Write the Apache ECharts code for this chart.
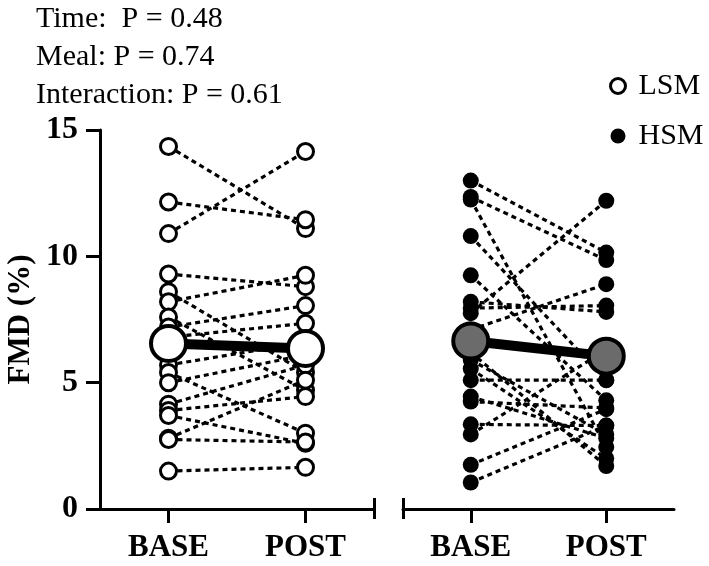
<!DOCTYPE html>
<html>
<head>
<meta charset="utf-8">
<script src="https://cdn.jsdelivr.net/npm/echarts@6/dist/echarts.min.js"></script>
<style>
html,body{margin:0;padding:0;background:#fff;}
#chart{width:709px;height:566px;}
</style>
</head>
<body>
<div id="chart"></div>
<script>
var categories = ['BASE', 'POST'];
var yTicks = [0, 5, 10, 15];
var statsLines = ['Time:  P = 0.48', 'Meal: P = 0.74', 'Interaction: P = 0.61'];

var lsmBase = [14.35, 12.15, 10.9, 9.3, 8.6, 8.2, 7.6, 7.2, 6.8, 5.7, 5.4, 5.0, 4.15, 3.9, 3.7, 2.8, 2.75, 1.5];
var lsmPost = [11.1, 11.45, 14.15, 8.8, 5.4, 9.25, 4.7, 8.05, 7.35, 6.6, 3.0, 6.1, 5.7, 4.45, 2.6, 5.1, 2.65, 1.65];
var lsmMean = [6.55, 6.35];

var hsmBase = [13.0, 12.35, 12.25, 10.8, 9.25, 8.2, 7.95, 7.75, 7.1, 6.2, 5.9, 5.55, 5.1, 4.45, 4.25, 3.35, 2.95, 1.75, 1.05];
var hsmPost = [10.15, 9.85, 2.45, 5.1, 4.3, 7.8, 8.05, 12.2, 8.9, 1.7, 2.95, 2.0, 5.1, 2.8, 4.0, 3.3, 6.3, 3.95, 3.3];
var hsmMean = [6.65, 6.05];

var FONT = '"Liberation Serif", "Times New Roman", serif';
var chart = echarts.init(document.getElementById('chart'), null, {renderer: 'canvas'});

var series = [];
function addGroup(base, post, idx, name, pointStyle, meanValues, meanFill) {
  for (var i = 0; i < base.length; i++) {
    series.push({
      type: 'line', xAxisIndex: idx, yAxisIndex: idx,
      data: [base[i], post[i]],
      symbol: 'none', silent: true, z: 2,
      lineStyle: {color: '#000', width: 3.2, type: [5, 4]}
    });
  }
  var pts = [];
  for (var j = 0; j < base.length; j++) {
    pts.push([0, base[j]]);
    pts.push([1, post[j]]);
  }
  series.push({
    type: 'scatter', name: name, xAxisIndex: idx, yAxisIndex: idx,
    data: pts, symbol: 'circle', symbolSize: 16, z: 3,
    itemStyle: pointStyle
  });
  series.push({
    type: 'line', xAxisIndex: idx, yAxisIndex: idx,
    data: meanValues, symbol: 'circle', symbolSize: 35, z: 5,
    lineStyle: {color: '#000', width: 10},
    itemStyle: {color: meanFill, borderColor: '#000', borderWidth: 4, opacity: 1}
  });
}
addGroup(lsmBase, lsmPost, 0, 'LSM', {color: '#fff', borderColor: '#000', borderWidth: 3, opacity: 1}, lsmMean, '#fff');
addGroup(hsmBase, hsmPost, 1, 'HSM', {color: '#000', borderColor: '#000', borderWidth: 0, opacity: 1}, hsmMean, '#6b6b6b');

function catAxis(gi) {
  return {
    type: 'category', gridIndex: gi, data: categories, boundaryGap: true,
    axisLine: {show: true, lineStyle: {color: '#000', width: 3}},
    axisTick: {show: true, alignWithLabel: true, length: 14, lineStyle: {color: '#000', width: 3}},
    axisLabel: {color: '#000', fontFamily: FONT, fontWeight: 'bold', fontSize: 31, margin: 23},
    splitLine: {show: false}
  };
}
function capAxis(gi, pos) {
  return {
    type: 'value', gridIndex: gi, min: 0, max: 1, position: 'bottom', offset: -11,
    axisLine: {show: false},
    axisLabel: {show: false},
    splitLine: {show: false},
    axisTick: {show: true, customValues: [pos], length: 21, lineStyle: {color: '#000', width: 3}}
  };
}

var option = {
  animation: false,
  backgroundColor: '#fff',
  title: {
    text: statsLines.join('\n'),
    left: 36, top: 0, padding: 0,
    textStyle: {fontFamily: FONT, fontWeight: 'normal', fontSize: 30, lineHeight: 38, color: '#000'}
  },
  legend: {
    orient: 'vertical', left: 604, top: 66, itemWidth: 15, itemHeight: 15, itemGap: 20,
    textStyle: {fontFamily: FONT, fontSize: 30, lineHeight: 30, color: '#000', padding: [0, 0, 0, 8]},
    data: [
      {name: 'LSM', icon: 'circle', itemStyle: {color: '#fff', borderColor: '#000', borderWidth: 3}},
      {name: 'HSM', icon: 'circle', itemStyle: {color: '#000', borderWidth: 0}}
    ]
  },
  grid: [
    {left: 100, top: 130, width: 274, height: 379},
    {left: 403, top: 130, width: 271, height: 379}
  ],
  xAxis: [catAxis(0), catAxis(1), capAxis(0, 1), capAxis(1, 0)],
  yAxis: [
    {
      type: 'value', gridIndex: 0, min: yTicks[0], max: yTicks[yTicks.length - 1], interval: 5,
      name: 'FMD (%)', nameLocation: 'middle', nameGap: 64, nameRotate: 90,
      nameTextStyle: {fontFamily: FONT, fontWeight: 'bold', fontSize: 31, color: '#000'},
      axisLine: {show: true, lineStyle: {color: '#000', width: 3}},
      axisTick: {show: true, length: 14, lineStyle: {color: '#000', width: 3}},
      axisLabel: {color: '#000', fontFamily: FONT, fontWeight: 'bold', fontSize: 32, margin: 22},
      splitLine: {show: false}
    },
    {
      type: 'value', gridIndex: 1, min: 0, max: 15, interval: 5, show: false,
      splitLine: {show: false}
    }
  ],
  series: series
};
chart.setOption(option);
</script>
</body>
</html>
